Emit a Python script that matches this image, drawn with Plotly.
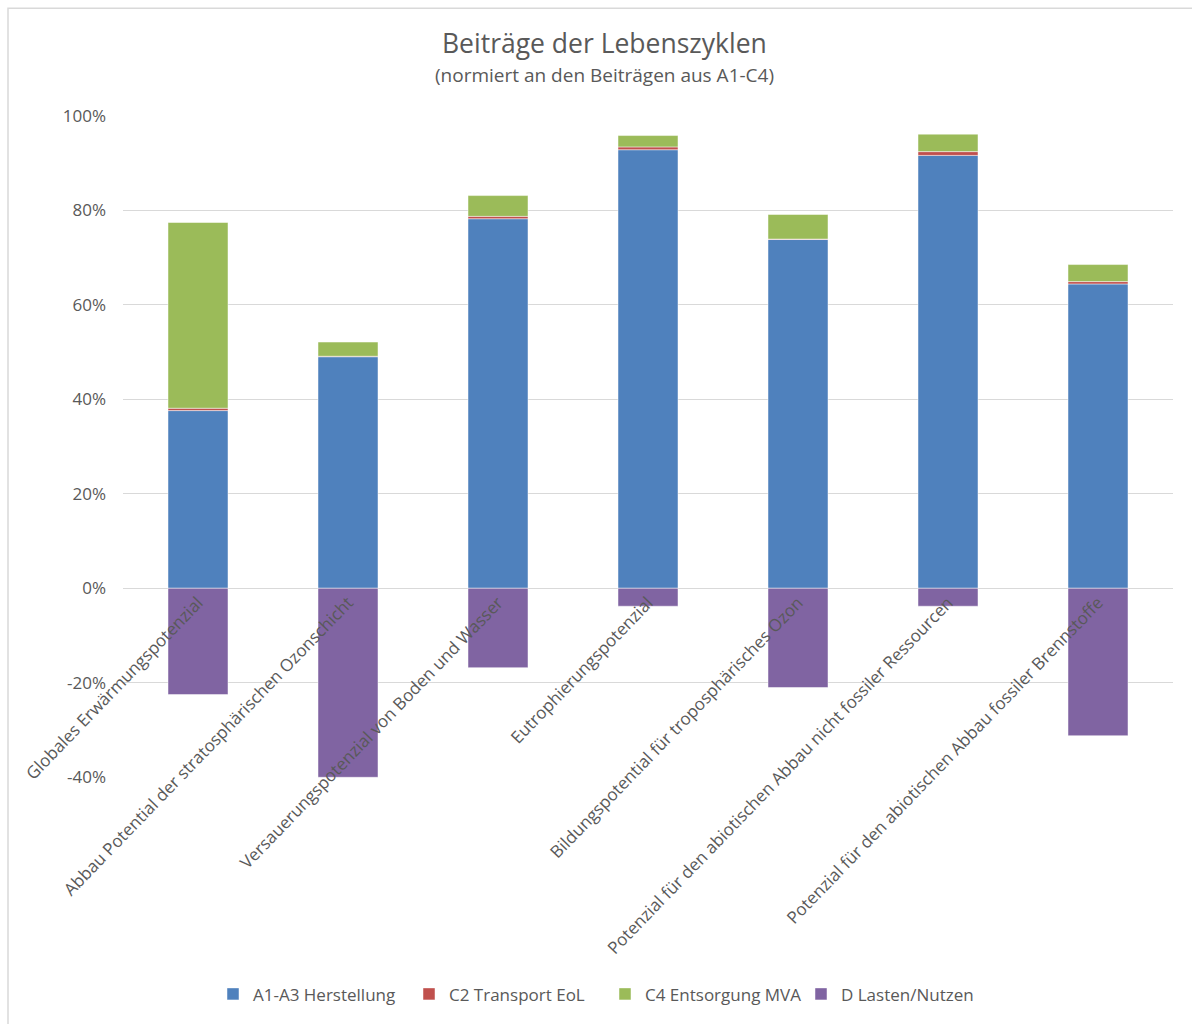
import plotly.graph_objects as go

categories = [
    "Globales Erwärmungspotenzial",
    "Abbau Potential der stratosphärischen Ozonschicht",
    "Versauerungspotenzial von Boden und Wasser",
    "Eutrophierungspotenzial",
    "Bildungspotential für troposphärisches Ozon",
    "Potenzial für den abiotischen Abbau nicht fossiler Ressourcen",
    "Potenzial für den abiotischen Abbau fossiler Brennstoffe",
]
a1_a3 = [37.6, 49.0, 78.2, 92.8, 73.8, 91.6, 64.4]
c2 = [0.5, 0.1, 0.5, 0.6, 0.1, 0.8, 0.5]
c4 = [39.3, 3.0, 4.4, 2.4, 5.2, 3.7, 3.6]
d = [-22.5, -40.0, -16.8, -3.8, -21.0, -3.8, -31.2]

series_names = ["A1-A3 Herstellung", "C2 Transport EoL", "C4 Entsorgung MVA", "D Lasten/Nutzen"]
series_vals = [a1_a3, c2, c4, d]
colors = ["#4f81bd", "#c0504d", "#9bbb59", "#8064a2"]
y_ticks = [-40, -20, 0, 20, 40, 60, 80, 100]

title_text = "Beiträge der Lebenszyklen"
subtitle_text = "(normiert an den Beiträgen aus A1-C4)"

FONT = "'Open Sans', Lato, sans-serif"
GRAY = "#595959"

# plot-area geometry (pixels)
L, R, T, B = 123, 1173, 115, 780
W, H = R - L, B - T


def px_x(x):
    return (x - L) / W


def px_y(y):
    return (B - y) / H


fig = go.Figure()
for name, vals, col in zip(series_names, series_vals, colors):
    fig.add_trace(go.Bar(
        x=categories, y=vals, name=name,
        marker=dict(color=col, line=dict(color="rgba(255,255,255,0.6)", width=0.8)),
        width=0.4,
    ))

fig.update_layout(
    barmode="relative",
    width=1192, height=1024,
    margin=dict(l=L, r=1192 - R, t=T, b=1024 - B),
    paper_bgcolor="white", plot_bgcolor="white",
    font=dict(family=FONT, color=GRAY, size=16),
    showlegend=True,
    legend=dict(
        orientation="h", x=px_x(605), xref="paper", xanchor="center",
        y=px_y(997), yanchor="middle",
        font=dict(family=FONT, size=17, color=GRAY),
        itemwidth=30, traceorder="normal",
        entrywidth=151,
    ),
    xaxis=dict(
        type="category", range=[-0.5, 6.5],
        anchor="free", position=40 / 140,
        tickangle=-46, showgrid=False, showline=False, ticks="",
        tickfont=dict(family=FONT, size=17, color=GRAY),
        automargin=False,
    ),
    yaxis=dict(
        range=[-40.15, 100.15],
        tickvals=y_ticks, ticktext=[f"{v}%" for v in y_ticks],
        showgrid=True, gridcolor="#d9d9d9", gridwidth=1,
        zeroline=True, zerolinecolor="#d9d9d9", zerolinewidth=1,
        showline=False, ticks="",
        ticklabelstandoff=16,
        tickfont=dict(family=FONT, size=17, color=GRAY),
        automargin=False,
    ),
)

fig.add_annotation(text=title_text, xref="paper", yref="paper",
                   x=px_x(604), y=px_y(43), xanchor="center", yanchor="middle",
                   showarrow=False, font=dict(family=FONT, size=26.5, color=GRAY))
fig.add_annotation(text=subtitle_text, xref="paper", yref="paper",
                   x=px_x(604), y=px_y(75), xanchor="center", yanchor="middle",
                   showarrow=False, font=dict(family=FONT, size=19, color=GRAY))

# outer chart border
fig.add_shape(type="rect", xref="paper", yref="paper",
              x0=px_x(8), x1=px_x(1200), y0=px_y(1030), y1=px_y(8),
              line=dict(color="#d9d9d9", width=1.5), fillcolor="rgba(0,0,0,0)", layer="below")

fig.write_html("out.html")
